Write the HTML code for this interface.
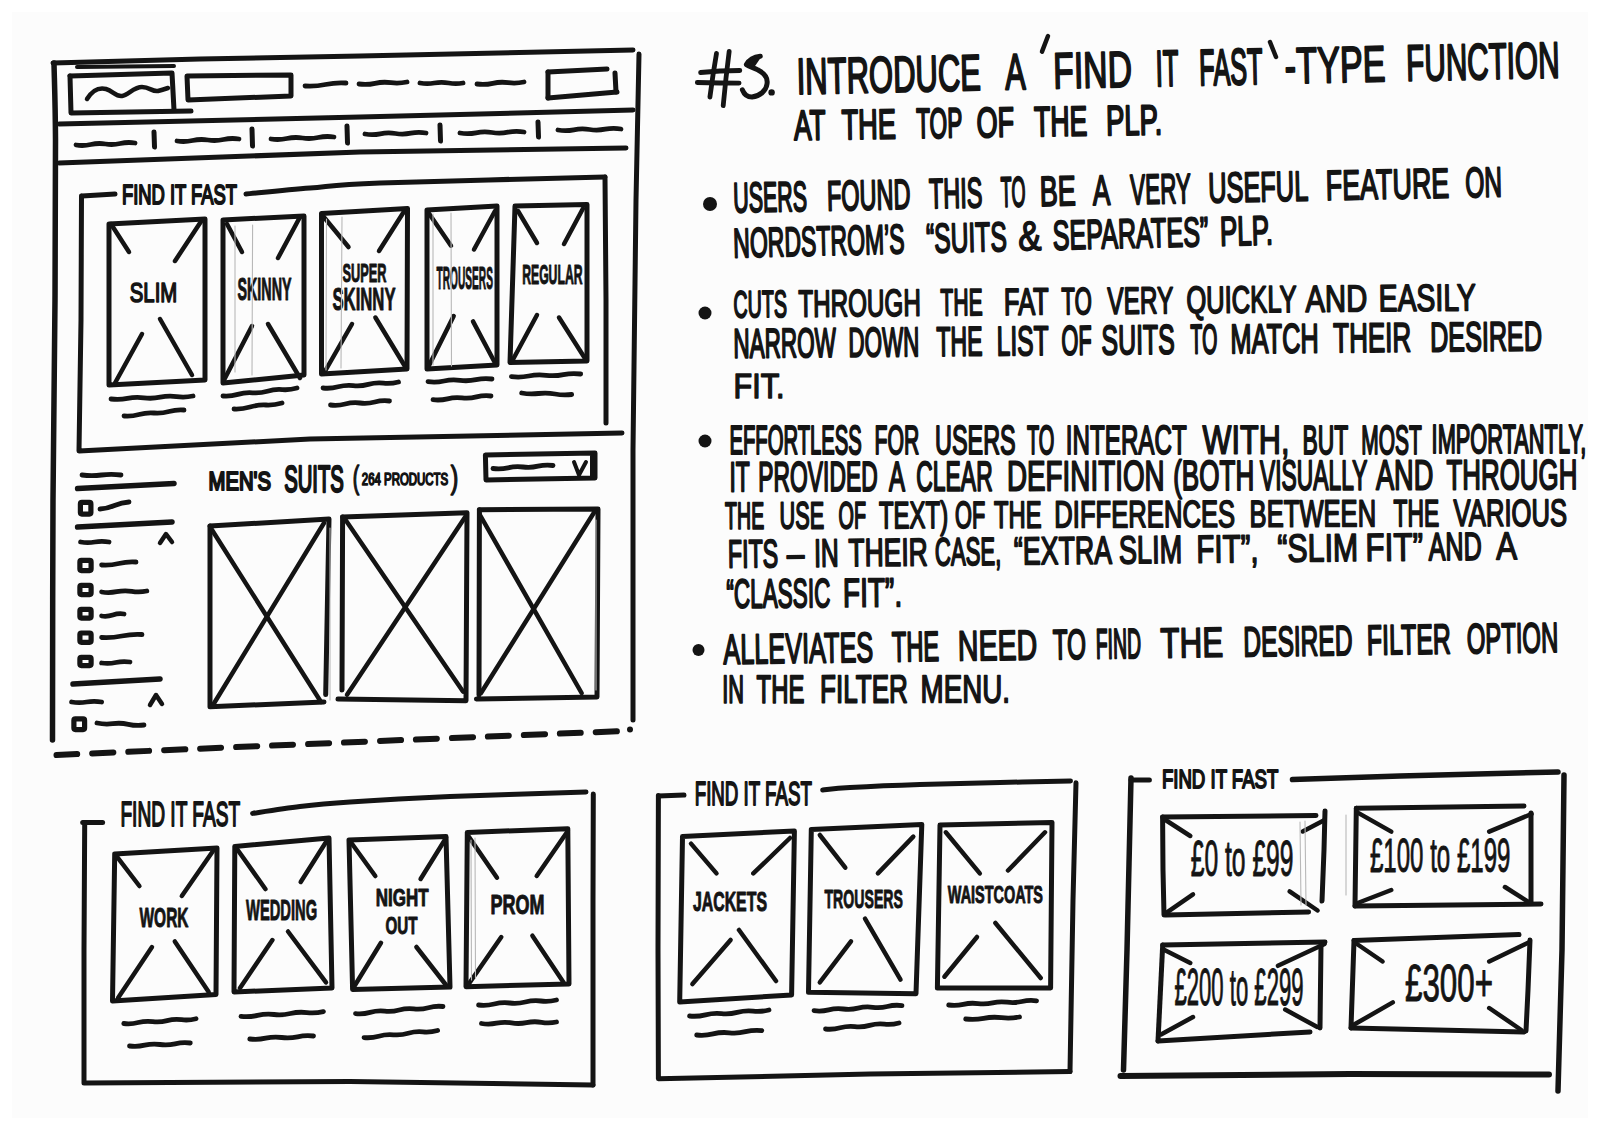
<!DOCTYPE html>
<html><head><meta charset="utf-8"><style>
html,body{margin:0;padding:0;background:#fff;}
body{width:1600px;height:1130px;overflow:hidden;}
svg{display:block;}
svg text{font-family:"Liberation Sans",sans-serif;fill:#141414;stroke:none;}
</style></head><body>
<svg width="1600" height="1130" viewBox="0 0 1600 1130">
<rect x="0" y="0" width="1600" height="1130" fill="#ffffff"/>
<rect x="12" y="12" width="1576" height="1106" fill="#fcfcfc"/>
<g fill="none" stroke="#141414" stroke-linecap="round" stroke-linejoin="round">
<path d="M53.0 63.0 L200.0 59.0 L360.0 56.0 L633.0 50.0" stroke-width="5"/>
<path d="M54.0 63.0 C54.2 75.8 55.3 100.5 55.5 140.0 C55.7 179.5 55.4 240.0 55.0 300.0 C54.6 360.0 53.4 426.7 53.0 500.0 C52.6 573.3 52.6 700.0 52.5 740.0" stroke-width="5.5"/>
<path d="M639.0 54.0 L636.0 200.0 L633.0 450.0 L633.0 720.0" stroke-width="5"/>
<path d="M56.5 755 Q300 744 625 731" stroke-width="6" stroke-dasharray="21 15"/>
<circle cx="630.0" cy="729.5" r="3.0" fill="#141414" stroke="none"/>
<path d="M77.0 67.0 L174.0 66.0" stroke-width="4"/>
<path d="M70.0 76.0 L172.0 73.0 L174.0 110.0" stroke-width="5"/>
<path d="M70.0 76.0 L71.0 113.0 L191.0 111.0" stroke-width="5"/>
<path d="M87 99 C92 91 98 87 106 89 C113 91 116 97 122 96 C128 95 134 87 142 87 C150 87 152 92 158 91 C162 90 165 89 168 88" stroke-width="4.5"/>
<path d="M187.0 76.0 L291.0 75.0 L291.0 96.0 L188.0 100.0 L187.0 76.0" stroke-width="5"/>
<path d="M305.0 86.0 Q315.2 86.7 325.5 84.5 Q335.8 82.3 346.0 83.0" stroke-width="4.8"/>
<path d="M359.0 84.0 Q367.0 85.1 375.0 83.3 Q383.0 81.6 391.0 82.7 Q399.0 83.7 407.0 82.0" stroke-width="4.8"/>
<path d="M420.0 83.0 Q427.2 84.4 434.3 83.0 Q441.5 81.6 448.7 83.0 Q455.8 84.4 463.0 83.0" stroke-width="4.8"/>
<path d="M477.0 84.0 Q484.8 85.1 492.7 83.3 Q500.5 81.6 508.3 82.7 Q516.2 83.7 524.0 82.0" stroke-width="4.8"/>
<path d="M548.0 72.0 L607.0 69.0" stroke-width="5"/>
<path d="M615.0 73.0 L616.0 92.0" stroke-width="5"/>
<path d="M548.0 98.0 L617.0 92.0" stroke-width="5"/>
<path d="M548.0 72.0 L548.0 98.0" stroke-width="5"/>
<path d="M59.0 124.0 L360.0 117.0 L633.0 110.0" stroke-width="5"/>
<path d="M59.0 163.0 L360.0 152.0 L626.0 148.0" stroke-width="5"/>
<path d="M154.0 132.0 L154.5 147.0" stroke-width="5"/>
<path d="M252.0 129.0 L252.5 146.0" stroke-width="5"/>
<path d="M347.0 126.0 L347.5 143.0" stroke-width="5"/>
<path d="M440.0 125.0 L440.5 141.0" stroke-width="5"/>
<path d="M538.0 122.0 L538.5 137.0" stroke-width="5"/>
<path d="M76.0 145.0 Q83.4 146.2 90.8 144.5 Q98.1 142.8 105.5 144.0 Q112.9 145.2 120.2 143.5 Q127.6 141.8 135.0 143.0" stroke-width="4.8"/>
<path d="M177.0 141.0 Q184.8 142.2 192.5 140.5 Q200.2 138.8 208.0 140.0 Q215.8 141.2 223.5 139.5 Q231.2 137.8 239.0 139.0" stroke-width="4.8"/>
<path d="M271.0 139.0 Q278.9 140.2 286.8 138.5 Q294.6 136.8 302.5 138.0 Q310.4 139.2 318.2 137.5 Q326.1 135.8 334.0 137.0" stroke-width="4.8"/>
<path d="M365.0 134.0 Q372.6 135.3 380.2 133.8 Q387.9 132.2 395.5 133.5 Q403.1 134.8 410.8 133.2 Q418.4 131.7 426.0 133.0" stroke-width="4.8"/>
<path d="M460.0 133.0 Q468.0 134.3 476.0 132.8 Q484.0 131.2 492.0 132.5 Q500.0 133.8 508.0 132.2 Q516.0 130.7 524.0 132.0" stroke-width="4.8"/>
<path d="M558.0 130.0 Q565.9 131.3 573.8 129.8 Q581.6 128.2 589.5 129.5 Q597.4 130.8 605.2 129.2 Q613.1 127.7 621.0 129.0" stroke-width="4.8"/>
<path d="M82.0 196.0 L115.0 194.0" stroke-width="5"/>
<text x="122.0" y="204.0" font-size="27.6" font-weight="normal" textLength="115.0" lengthAdjust="spacingAndGlyphs" style="stroke:#141414;stroke-width:2.0;stroke-linejoin:round">FIND IT FAST</text>
<path d="M246.0 194.0 C256.7 193.0 287.7 189.8 310.0 188.0 C332.3 186.2 330.8 184.8 380.0 183.0 C429.2 181.2 567.5 178.0 605.0 177.0" stroke-width="5"/>
<path d="M605.0 177.0 L606.0 300.0 L606.0 423.0" stroke-width="5"/>
<path d="M81.5 196.0 L81.0 320.0 L79.0 451.0 L310.0 439.0 L622.0 433.0" stroke-width="5"/>
<path d="M109.0 224.0 L205.0 219.0 L205.0 380.0 L109.0 385.0 L109.0 224.0" stroke-width="5"/>
<path d="M111.0 224.0 L129.0 252.0" stroke-width="4.5"/>
<path d="M202.0 220.0 L175.0 261.0" stroke-width="4.5"/>
<path d="M115.0 383.0 L142.0 334.0" stroke-width="4.5"/>
<path d="M192.0 375.0 L160.0 319.0" stroke-width="4.5"/>
<path d="M223.0 220.0 L304.0 216.0 L304.0 375.0 L223.0 383.0 L223.0 220.0" stroke-width="5"/>
<path d="M227.0 224.0 L242.0 252.0" stroke-width="4.5"/>
<path d="M300.0 217.0 L278.0 258.0" stroke-width="4.5"/>
<path d="M224.0 380.0 L252.0 326.0" stroke-width="4.5"/>
<path d="M300.0 378.0 L268.0 324.0" stroke-width="4.5"/>
<path d="M321.5 213.6 L407.5 208.5 L407.0 369.0 L321.5 374.0 L321.5 213.6" stroke-width="5"/>
<path d="M323.0 216.0 L348.5 247.0" stroke-width="4.5"/>
<path d="M403.7 212.0 L379.0 251.0" stroke-width="4.5"/>
<path d="M324.0 373.0 L352.0 324.0" stroke-width="4.5"/>
<path d="M406.0 368.0 L375.4 317.5" stroke-width="4.5"/>
<path d="M427.0 210.0 L497.0 206.0 L497.0 365.0 L427.0 369.0 L427.0 210.0" stroke-width="5"/>
<path d="M429.0 213.6 L451.0 245.7" stroke-width="4.5"/>
<path d="M495.0 211.0 L474.0 249.5" stroke-width="4.5"/>
<path d="M428.0 367.6 L453.7 316.0" stroke-width="4.5"/>
<path d="M494.8 362.5 L473.0 321.4" stroke-width="4.5"/>
<path d="M515.0 206.0 L587.0 204.6 L587.0 361.0 L510.0 362.5 L515.0 206.0" stroke-width="5"/>
<path d="M518.0 211.0 L537.0 243.0" stroke-width="4.5"/>
<path d="M583.0 208.5 L564.0 244.0" stroke-width="4.5"/>
<path d="M512.7 360.0 L537.0 315.0" stroke-width="4.5"/>
<path d="M586.0 360.0 L559.0 317.5" stroke-width="4.5"/>
<text x="129.8" y="302.2" font-size="27.6" font-weight="normal" textLength="47.4" lengthAdjust="spacingAndGlyphs" style="stroke:#141414;stroke-width:1.6;stroke-linejoin:round">SLIM</text>
<text x="237.5" y="299.5" font-size="30.5" font-weight="bold" textLength="54.0" lengthAdjust="spacingAndGlyphs" style="stroke:#141414;stroke-width:1.0;stroke-linejoin:round">SKINNY</text>
<text x="342.5" y="281.5" font-size="26.2" font-weight="bold" textLength="44.0" lengthAdjust="spacingAndGlyphs" style="stroke:#141414;stroke-width:1.0;stroke-linejoin:round">SUPER</text>
<text x="332.5" y="309.5" font-size="32.0" font-weight="bold" textLength="63.0" lengthAdjust="spacingAndGlyphs" style="stroke:#141414;stroke-width:1.0;stroke-linejoin:round">SKINNY</text>
<text x="436.5" y="288.5" font-size="30.5" font-weight="bold" textLength="56.5" lengthAdjust="spacingAndGlyphs" style="stroke:#141414;stroke-width:1.0;stroke-linejoin:round">TROUSERS</text>
<text x="522.2" y="283.5" font-size="27.6" font-weight="bold" textLength="60.3" lengthAdjust="spacingAndGlyphs" style="stroke:#141414;stroke-width:1.0;stroke-linejoin:round">REGULAR</text>
<path d="M111.0 399.0 Q119.2 400.1 127.4 398.4 Q135.6 396.7 143.8 397.8 Q152.0 398.9 160.2 397.2 Q168.4 395.5 176.6 396.6 Q184.8 397.7 193.0 396.0" stroke-width="4.8"/>
<path d="M124.0 416.0 Q131.5 416.6 139.0 414.5 Q146.5 412.4 154.0 413.0 Q161.5 413.6 169.0 411.5 Q176.5 409.4 184.0 410.0" stroke-width="4.8"/>
<path d="M223.0 396.0 Q230.4 396.6 237.8 394.4 Q245.2 392.2 252.6 392.8 Q260.0 393.4 267.4 391.2 Q274.8 389.0 282.2 389.6 Q289.6 390.2 297.0 388.0" stroke-width="4.8"/>
<path d="M234.0 409.0 Q242.0 409.4 250.0 407.0 Q258.0 404.6 266.0 405.0 Q274.0 405.4 282.0 403.0" stroke-width="4.8"/>
<path d="M323.0 388.0 Q330.6 388.8 338.1 386.8 Q345.6 384.8 353.2 385.6 Q360.8 386.4 368.3 384.4 Q375.9 382.4 383.4 383.2 Q390.9 384.0 398.5 382.0" stroke-width="4.8"/>
<path d="M330.5 405.0 Q337.9 405.9 345.2 404.0 Q352.6 402.1 360.0 403.0 Q367.4 403.9 374.8 402.0 Q382.1 400.1 389.5 401.0" stroke-width="4.8"/>
<path d="M428.0 381.7 Q436.0 382.8 444.0 381.0 Q452.0 379.3 460.0 380.4 Q468.0 381.4 476.0 379.7 Q484.0 377.9 492.0 379.0" stroke-width="4.8"/>
<path d="M433.0 399.7 Q440.2 400.6 447.5 398.8 Q454.8 396.9 462.0 397.9 Q469.2 398.8 476.5 396.9 Q483.8 395.1 491.0 396.0" stroke-width="4.8"/>
<path d="M511.4 376.6 Q520.1 377.7 528.7 376.0 Q537.4 374.2 546.0 375.3 Q554.7 376.4 563.4 374.6 Q572.0 372.9 580.7 374.0" stroke-width="4.8"/>
<path d="M521.7 393.0 Q530.0 394.6 538.4 393.5 Q546.7 392.4 555.0 394.0 Q563.4 395.6 571.7 394.5" stroke-width="4.8"/>
<path d="M82.0 475.0 Q91.8 476.4 101.5 475.0 Q111.2 473.6 121.0 475.0" stroke-width="4.8"/>
<path d="M77.6 488.6 L174.0 483.5" stroke-width="5.5"/>
<rect x="80.4" y="502.4" width="10.5" height="11.7" rx="1.5" stroke-width="5.2"/>
<path d="M100.0 509.0 Q107.2 508.6 114.5 505.5 Q121.8 502.4 129.0 502.0" stroke-width="4.8"/>
<path d="M77.6 527.0 L172.0 522.0" stroke-width="5.5"/>
<path d="M80.6 542.0 Q87.7 543.4 94.8 542.0 Q101.9 540.6 109.0 542.0" stroke-width="4.8"/>
<path d="M160.0 543.0 L166.0 534.0 L172.0 542.0" stroke-width="4.5"/>
<rect x="79.9" y="560.4" width="11.2" height="10.2" rx="1.5" stroke-width="5.2"/>
<path d="M101.6 565.0 Q110.2 565.6 118.8 563.5 Q127.4 561.4 136.0 562.0" stroke-width="4.8"/>
<rect x="79.9" y="585.4" width="11.2" height="9.2" rx="1.5" stroke-width="5.2"/>
<path d="M101.6 592.0 Q109.1 593.2 116.7 591.7 Q124.2 590.1 131.7 591.3 Q139.3 592.6 146.8 591.0" stroke-width="4.8"/>
<rect x="79.9" y="609.4" width="11.2" height="8.7" rx="1.5" stroke-width="5.2"/>
<path d="M101.6 616.0 Q107.2 616.9 112.8 615.0 Q118.4 613.1 124.0 614.0" stroke-width="4.8"/>
<rect x="79.9" y="633.0" width="11.2" height="9.3" rx="1.5" stroke-width="5.2"/>
<path d="M101.6 637.5 Q111.7 638.1 121.8 636.0 Q131.9 633.9 142.0 634.5" stroke-width="4.8"/>
<rect x="79.9" y="657.4" width="11.2" height="8.2" rx="1.5" stroke-width="5.2"/>
<path d="M101.6 663.0 Q108.7 664.1 115.8 662.5 Q122.9 660.9 130.0 662.0" stroke-width="4.8"/>
<path d="M73.0 684.0 L160.0 679.0" stroke-width="5.5"/>
<path d="M71.6 702.0 Q79.1 703.4 86.6 702.0 Q94.1 700.6 101.6 702.0" stroke-width="4.8"/>
<path d="M150.0 705.0 L156.0 695.0 L162.0 704.0" stroke-width="4.5"/>
<rect x="73.9" y="718.9" width="10.7" height="10.7" rx="1.5" stroke-width="5.2"/>
<path d="M97.0 723.0 Q104.8 724.7 112.7 723.7 Q120.5 722.6 128.3 724.3 Q136.2 726.1 144.0 725.0" stroke-width="4.8"/>
<text x="208.6" y="489.9" font-size="26.2" font-weight="normal" textLength="62.3" lengthAdjust="spacingAndGlyphs" style="stroke:#141414;stroke-width:2.2;stroke-linejoin:round">MEN'S</text>
<text x="284.2" y="491.8" font-size="36.3" font-weight="normal" textLength="59.6" lengthAdjust="spacingAndGlyphs" style="stroke:#141414;stroke-width:2.4;stroke-linejoin:round">SUITS</text>
<text x="352.8" y="488.2" font-size="30.5" font-weight="normal" textLength="6.5" lengthAdjust="spacingAndGlyphs" style="stroke:#141414;stroke-width:1.5;stroke-linejoin:round">(</text>
<text x="450.8" y="488.2" font-size="30.5" font-weight="normal" textLength="7.5" lengthAdjust="spacingAndGlyphs" style="stroke:#141414;stroke-width:1.5;stroke-linejoin:round">)</text>
<text x="361.8" y="485.2" font-size="16.0" font-weight="normal" textLength="86.4" lengthAdjust="spacingAndGlyphs" style="stroke:#141414;stroke-width:1.6;stroke-linejoin:round">264 PRODUCTS</text>
<path d="M485.4 455.0 L595.0 453.0 L595.0 478.0 L486.0 480.0 L485.4 455.0" stroke-width="5"/>
<path d="M493.0 468.5 Q500.5 469.5 508.0 467.8 Q515.5 466.0 523.0 467.0 Q530.5 468.0 538.0 466.2 Q545.5 464.5 553.0 465.5" stroke-width="4.8"/>
<path d="M574.0 462.0 L579.0 475.0 L586.0 462.0" stroke-width="4"/>
<path d="M592.0 456.0 L592.0 478.0" stroke-width="4"/>
<path d="M210.0 526.0 L329.0 519.0 L325.7 694.6" stroke-width="5"/>
<path d="M210.0 526.0 L210.0 706.7 L324.0 702.0" stroke-width="5"/>
<path d="M211.4 529.0 L321.0 702.0" stroke-width="4.5"/>
<path d="M324.0 523.0 L213.0 705.0" stroke-width="4.5"/>
<path d="M342.6 517.0 L467.0 512.7 L466.0 700.7 L338.0 699.0" stroke-width="5"/>
<path d="M342.6 517.0 L342.0 690.0" stroke-width="5"/>
<path d="M345.6 520.0 L463.0 691.6" stroke-width="4.5"/>
<path d="M466.0 515.7 L347.0 694.7" stroke-width="4.5"/>
<path d="M479.4 509.7 L598.0 509.0 L597.0 697.0 L476.4 699.0" stroke-width="5"/>
<path d="M479.4 509.7 L479.0 695.0" stroke-width="5"/>
<path d="M479.4 514.0 L581.6 693.0" stroke-width="4.5"/>
<path d="M595.0 511.0 L481.0 693.0" stroke-width="4.5"/>
<path d="M716.5 53.3 L713.0 75.0 L709.9 97.1" stroke-width="4.8"/>
<path d="M729.2 51.3 L726.0 78.0 L723.2 105.7" stroke-width="4.8"/>
<path d="M700.6 72.5 L720.0 71.0 L739.8 70.5" stroke-width="4.8"/>
<path d="M697.3 82.5 L720.0 83.0 L739.1 83.1" stroke-width="4.8"/>
<path d="M760.3 56.3 C754 57 749 60 746.4 64.6 C750 67 755 68 758 70 C764 73 768 78 767 84 C766 91 760 96 752 97 C747 97 744 94 742.4 89.8" stroke-width="5"/>
<path d="M760.5 55.5 L748 63.5 L754 65 Z" fill="#141414" stroke-width="3"/>
<circle cx="771.6" cy="92.4" r="3.2" fill="#141414" stroke="none"/>
<text x="797.0" y="94.1" font-size="50.9" font-weight="normal" textLength="184.3" lengthAdjust="spacingAndGlyphs" transform="rotate(-1.25 796.4 94.7)" style="stroke:#141414;stroke-width:2.10;stroke-linejoin:round">INTRODUCE</text>
<text x="1005.5" y="89.5" font-size="50.9" font-weight="normal" textLength="20.4" lengthAdjust="spacingAndGlyphs" transform="rotate(-1.25 1004.9 90.1)" style="stroke:#141414;stroke-width:2.12;stroke-linejoin:round">A</text>
<text x="1053.6" y="88.5" font-size="50.9" font-weight="normal" textLength="78.8" lengthAdjust="spacingAndGlyphs" transform="rotate(-1.25 1053.0 89.1)" style="stroke:#141414;stroke-width:1.98;stroke-linejoin:round">FIND</text>
<text x="1156.1" y="86.2" font-size="50.9" font-weight="normal" textLength="22.8" lengthAdjust="spacingAndGlyphs" transform="rotate(-1.25 1155.5 86.8)" style="stroke:#141414;stroke-width:2.35;stroke-linejoin:round">IT</text>
<text x="1199.6" y="85.3" font-size="50.9" font-weight="normal" textLength="63.3" lengthAdjust="spacingAndGlyphs" transform="rotate(-1.25 1199.0 85.9)" style="stroke:#141414;stroke-width:2.39;stroke-linejoin:round">FAST</text>
<text x="1285.1" y="83.4" font-size="50.9" font-weight="normal" textLength="100.8" lengthAdjust="spacingAndGlyphs" transform="rotate(-1.25 1284.5 84.0)" style="stroke:#141414;stroke-width:1.96;stroke-linejoin:round">-TYPE</text>
<text x="1406.6" y="80.8" font-size="50.9" font-weight="normal" textLength="153.3" lengthAdjust="spacingAndGlyphs" transform="rotate(-1.25 1406.0 81.4)" style="stroke:#141414;stroke-width:2.16;stroke-linejoin:round">FUNCTION</text>
<path d="M1048.0 36.0 L1042.0 51.6" stroke-width="4.5"/>
<path d="M1270.0 42.0 L1276.0 57.0" stroke-width="4.5"/>
<text x="794.3" y="140.0" font-size="42.2" font-weight="normal" textLength="31.6" lengthAdjust="spacingAndGlyphs" transform="rotate(-0.88 793.6 140.7)" style="stroke:#141414;stroke-width:2.19;stroke-linejoin:round">AT</text>
<text x="841.7" y="139.3" font-size="42.2" font-weight="normal" textLength="54.6" lengthAdjust="spacingAndGlyphs" transform="rotate(-0.88 841.0 140.0)" style="stroke:#141414;stroke-width:2.08;stroke-linejoin:round">THE</text>
<text x="916.5" y="138.1" font-size="42.2" font-weight="normal" textLength="46.0" lengthAdjust="spacingAndGlyphs" transform="rotate(-0.88 915.8 138.8)" style="stroke:#141414;stroke-width:2.30;stroke-linejoin:round">TOP</text>
<text x="976.7" y="137.2" font-size="42.2" font-weight="normal" textLength="37.6" lengthAdjust="spacingAndGlyphs" transform="rotate(-0.88 976.0 137.9)" style="stroke:#141414;stroke-width:2.09;stroke-linejoin:round">OF</text>
<text x="1034.3" y="136.3" font-size="42.2" font-weight="normal" textLength="53.3" lengthAdjust="spacingAndGlyphs" transform="rotate(-0.88 1033.6 137.0)" style="stroke:#141414;stroke-width:2.11;stroke-linejoin:round">THE</text>
<text x="1106.2" y="135.2" font-size="42.2" font-weight="normal" textLength="56.1" lengthAdjust="spacingAndGlyphs" transform="rotate(-0.88 1105.5 135.9)" style="stroke:#141414;stroke-width:2.14;stroke-linejoin:round">PLP.</text>
<circle cx="710.0" cy="204.0" r="7.0" fill="#141414" stroke="none"/>
<text x="733.6" y="212.4" font-size="42.2" font-weight="normal" textLength="73.8" lengthAdjust="spacingAndGlyphs" transform="rotate(-1.19 733.0 213.0)" style="stroke:#141414;stroke-width:2.14;stroke-linejoin:round">USERS</text>
<text x="827.2" y="210.5" font-size="42.2" font-weight="normal" textLength="83.6" lengthAdjust="spacingAndGlyphs" transform="rotate(-1.19 826.6 211.1)" style="stroke:#141414;stroke-width:2.05;stroke-linejoin:round">FOUND</text>
<text x="929.2" y="208.3" font-size="42.2" font-weight="normal" textLength="53.5" lengthAdjust="spacingAndGlyphs" transform="rotate(-1.19 928.6 208.9)" style="stroke:#141414;stroke-width:2.05;stroke-linejoin:round">THIS</text>
<text x="1001.1" y="206.8" font-size="42.2" font-weight="normal" textLength="24.7" lengthAdjust="spacingAndGlyphs" transform="rotate(-1.19 1000.5 207.4)" style="stroke:#141414;stroke-width:2.31;stroke-linejoin:round">TO</text>
<text x="1039.9" y="206.0" font-size="42.2" font-weight="normal" textLength="36.2" lengthAdjust="spacingAndGlyphs" transform="rotate(-1.19 1039.3 206.6)" style="stroke:#141414;stroke-width:1.88;stroke-linejoin:round">BE</text>
<text x="1093.1" y="204.9" font-size="42.2" font-weight="normal" textLength="17.5" lengthAdjust="spacingAndGlyphs" transform="rotate(-1.19 1092.5 205.5)" style="stroke:#141414;stroke-width:1.92;stroke-linejoin:round">A</text>
<text x="1130.6" y="204.2" font-size="42.2" font-weight="normal" textLength="60.5" lengthAdjust="spacingAndGlyphs" transform="rotate(-1.19 1130.0 204.8)" style="stroke:#141414;stroke-width:2.11;stroke-linejoin:round">VERY</text>
<text x="1208.4" y="202.5" font-size="42.2" font-weight="normal" textLength="100.2" lengthAdjust="spacingAndGlyphs" transform="rotate(-1.19 1207.8 203.1)" style="stroke:#141414;stroke-width:1.96;stroke-linejoin:round">USEFUL</text>
<text x="1326.0" y="200.1" font-size="42.2" font-weight="normal" textLength="123.6" lengthAdjust="spacingAndGlyphs" transform="rotate(-1.19 1325.4 200.7)" style="stroke:#141414;stroke-width:1.91;stroke-linejoin:round">FEATURE</text>
<text x="1465.5" y="197.2" font-size="42.2" font-weight="normal" textLength="36.9" lengthAdjust="spacingAndGlyphs" transform="rotate(-1.19 1464.9 197.8)" style="stroke:#141414;stroke-width:2.00;stroke-linejoin:round">ON</text>
<text x="733.6" y="257.4" font-size="41.4" font-weight="normal" textLength="171.4" lengthAdjust="spacingAndGlyphs" transform="rotate(-1.38 733.0 258.0)" style="stroke:#141414;stroke-width:2.04;stroke-linejoin:round">NORDSTROM’S</text>
<text x="926.4" y="252.8" font-size="41.4" font-weight="normal" textLength="80.7" lengthAdjust="spacingAndGlyphs" transform="rotate(-1.38 925.8 253.4)" style="stroke:#141414;stroke-width:1.96;stroke-linejoin:round">“SUITS</text>
<text x="1018.4" y="250.6" font-size="41.4" font-weight="normal" textLength="23.2" lengthAdjust="spacingAndGlyphs" transform="rotate(-1.38 1017.8 251.2)" style="stroke:#141414;stroke-width:1.50;stroke-linejoin:round">&amp;</text>
<text x="1052.9" y="249.7" font-size="41.4" font-weight="normal" textLength="155.8" lengthAdjust="spacingAndGlyphs" transform="rotate(-1.38 1052.3 250.3)" style="stroke:#141414;stroke-width:1.97;stroke-linejoin:round">SEPARATES”</text>
<text x="1220.2" y="245.7" font-size="41.4" font-weight="normal" textLength="53.2" lengthAdjust="spacingAndGlyphs" transform="rotate(-1.38 1219.6 246.3)" style="stroke:#141414;stroke-width:1.97;stroke-linejoin:round">PLP.</text>
<circle cx="705.0" cy="313.0" r="6.5" fill="#141414" stroke="none"/>
<text x="733.6" y="317.4" font-size="37.8" font-weight="normal" textLength="53.6" lengthAdjust="spacingAndGlyphs" transform="rotate(-0.54 733.0 318.0)" style="stroke:#141414;stroke-width:2.02;stroke-linejoin:round">CUTS</text>
<text x="798.4" y="316.8" font-size="37.8" font-weight="normal" textLength="122.5" lengthAdjust="spacingAndGlyphs" transform="rotate(-0.54 797.8 317.4)" style="stroke:#141414;stroke-width:1.82;stroke-linejoin:round">THROUGH</text>
<text x="940.6" y="315.5" font-size="37.8" font-weight="normal" textLength="42.1" lengthAdjust="spacingAndGlyphs" transform="rotate(-0.54 940.0 316.1)" style="stroke:#141414;stroke-width:1.96;stroke-linejoin:round">THE</text>
<text x="1004.0" y="314.9" font-size="37.8" font-weight="normal" textLength="44.8" lengthAdjust="spacingAndGlyphs" transform="rotate(-0.54 1003.4 315.5)" style="stroke:#141414;stroke-width:1.84;stroke-linejoin:round">FAT</text>
<text x="1061.6" y="314.3" font-size="37.8" font-weight="normal" textLength="30.3" lengthAdjust="spacingAndGlyphs" transform="rotate(-0.54 1061.0 314.9)" style="stroke:#141414;stroke-width:1.93;stroke-linejoin:round">TO</text>
<text x="1107.6" y="313.9" font-size="37.8" font-weight="normal" textLength="65.8" lengthAdjust="spacingAndGlyphs" transform="rotate(-0.54 1107.0 314.5)" style="stroke:#141414;stroke-width:1.82;stroke-linejoin:round">VERY</text>
<text x="1186.4" y="313.1" font-size="37.8" font-weight="normal" textLength="110.4" lengthAdjust="spacingAndGlyphs" transform="rotate(-0.54 1185.8 313.7)" style="stroke:#141414;stroke-width:1.78;stroke-linejoin:round">QUICKLY</text>
<text x="1305.4" y="312.0" font-size="37.8" font-weight="normal" textLength="62.0" lengthAdjust="spacingAndGlyphs" transform="rotate(-0.54 1304.8 312.6)" style="stroke:#141414;stroke-width:1.58;stroke-linejoin:round">AND</text>
<text x="1378.8" y="311.3" font-size="37.8" font-weight="normal" textLength="97.2" lengthAdjust="spacingAndGlyphs" transform="rotate(-0.54 1378.2 311.9)" style="stroke:#141414;stroke-width:1.66;stroke-linejoin:round">EASILY</text>
<text x="733.6" y="357.8" font-size="41.4" font-weight="normal" textLength="102.4" lengthAdjust="spacingAndGlyphs" transform="rotate(-0.52 733.0 358.4)" style="stroke:#141414;stroke-width:2.06;stroke-linejoin:round">NARROW</text>
<text x="848.6" y="356.7" font-size="41.4" font-weight="normal" textLength="70.8" lengthAdjust="spacingAndGlyphs" transform="rotate(-0.52 848.0 357.3)" style="stroke:#141414;stroke-width:2.07;stroke-linejoin:round">DOWN</text>
<text x="936.4" y="355.9" font-size="41.4" font-weight="normal" textLength="46.3" lengthAdjust="spacingAndGlyphs" transform="rotate(-0.52 935.8 356.5)" style="stroke:#141414;stroke-width:2.03;stroke-linejoin:round">THE</text>
<text x="996.8" y="355.4" font-size="41.4" font-weight="normal" textLength="52.0" lengthAdjust="spacingAndGlyphs" transform="rotate(-0.52 996.2 356.0)" style="stroke:#141414;stroke-width:1.96;stroke-linejoin:round">LIST</text>
<text x="1061.6" y="354.8" font-size="41.4" font-weight="normal" textLength="30.3" lengthAdjust="spacingAndGlyphs" transform="rotate(-0.52 1061.0 355.4)" style="stroke:#141414;stroke-width:2.09;stroke-linejoin:round">OF</text>
<text x="1101.6" y="354.4" font-size="41.4" font-weight="normal" textLength="73.3" lengthAdjust="spacingAndGlyphs" transform="rotate(-0.52 1101.0 355.0)" style="stroke:#141414;stroke-width:1.95;stroke-linejoin:round">SUITS</text>
<text x="1190.6" y="353.6" font-size="41.4" font-weight="normal" textLength="26.8" lengthAdjust="spacingAndGlyphs" transform="rotate(-0.52 1190.0 354.2)" style="stroke:#141414;stroke-width:2.21;stroke-linejoin:round">TO</text>
<text x="1230.6" y="353.3" font-size="41.4" font-weight="normal" textLength="88.3" lengthAdjust="spacingAndGlyphs" transform="rotate(-0.52 1230.0 353.9)" style="stroke:#141414;stroke-width:1.95;stroke-linejoin:round">MATCH</text>
<text x="1333.3" y="352.3" font-size="41.4" font-weight="normal" textLength="78.1" lengthAdjust="spacingAndGlyphs" transform="rotate(-0.52 1332.7 352.9)" style="stroke:#141414;stroke-width:1.90;stroke-linejoin:round">THEIR</text>
<text x="1430.2" y="351.4" font-size="41.4" font-weight="normal" textLength="111.9" lengthAdjust="spacingAndGlyphs" transform="rotate(-0.52 1429.6 352.0)" style="stroke:#141414;stroke-width:1.94;stroke-linejoin:round">DESIRED</text>
<text x="733.6" y="398.0" font-size="34.9" font-weight="normal" textLength="50.8" lengthAdjust="spacingAndGlyphs" transform="rotate(0.00 733.0 398.6)" style="stroke:#141414;stroke-width:1.49;stroke-linejoin:round">FIT.</text>
<circle cx="705.0" cy="441.0" r="6.5" fill="#141414" stroke="none"/>
<text x="729.4" y="454.0" font-size="40.7" font-weight="normal" textLength="132.5" lengthAdjust="spacingAndGlyphs" transform="rotate(-0.04 728.8 454.6)" style="stroke:#141414;stroke-width:2.13;stroke-linejoin:round">EFFORTLESS</text>
<text x="874.6" y="453.9" font-size="40.7" font-weight="normal" textLength="44.8" lengthAdjust="spacingAndGlyphs" transform="rotate(-0.04 874.0 454.5)" style="stroke:#141414;stroke-width:2.09;stroke-linejoin:round">FOR</text>
<text x="935.0" y="453.9" font-size="40.7" font-weight="normal" textLength="80.7" lengthAdjust="spacingAndGlyphs" transform="rotate(-0.04 934.4 454.5)" style="stroke:#141414;stroke-width:1.99;stroke-linejoin:round">USERS</text>
<text x="1027.0" y="453.8" font-size="40.7" font-weight="normal" textLength="27.4" lengthAdjust="spacingAndGlyphs" transform="rotate(-0.04 1026.4 454.4)" style="stroke:#141414;stroke-width:2.15;stroke-linejoin:round">TO</text>
<text x="1065.8" y="453.8" font-size="40.7" font-weight="normal" textLength="120.9" lengthAdjust="spacingAndGlyphs" transform="rotate(-0.04 1065.2 454.4)" style="stroke:#141414;stroke-width:1.95;stroke-linejoin:round">INTERACT</text>
<text x="1202.6" y="453.7" font-size="40.7" font-weight="normal" textLength="86.8" lengthAdjust="spacingAndGlyphs" transform="rotate(-0.04 1202.0 454.3)" style="stroke:#141414;stroke-width:1.66;stroke-linejoin:round">WITH,</text>
<text x="1302.5" y="453.6" font-size="40.7" font-weight="normal" textLength="45.8" lengthAdjust="spacingAndGlyphs" transform="rotate(-0.04 1301.9 454.2)" style="stroke:#141414;stroke-width:2.01;stroke-linejoin:round">BUT</text>
<text x="1361.2" y="453.6" font-size="40.7" font-weight="normal" textLength="60.5" lengthAdjust="spacingAndGlyphs" transform="rotate(-0.04 1360.6 454.2)" style="stroke:#141414;stroke-width:2.10;stroke-linejoin:round">MOST</text>
<text x="1431.6" y="453.5" font-size="40.7" font-weight="normal" textLength="154.6" lengthAdjust="spacingAndGlyphs" transform="rotate(-0.04 1431.0 454.1)" style="stroke:#141414;stroke-width:2.10;stroke-linejoin:round">IMPORTANTLY,</text>
<text x="729.4" y="491.4" font-size="42.2" font-weight="normal" textLength="20.4" lengthAdjust="spacingAndGlyphs" transform="rotate(-0.16 728.8 492.0)" style="stroke:#141414;stroke-width:2.07;stroke-linejoin:round">IT</text>
<text x="758.2" y="491.3" font-size="42.2" font-weight="normal" textLength="119.5" lengthAdjust="spacingAndGlyphs" transform="rotate(-0.16 757.6 491.9)" style="stroke:#141414;stroke-width:2.08;stroke-linejoin:round">PROVIDED</text>
<text x="889.0" y="490.9" font-size="42.2" font-weight="normal" textLength="16.0" lengthAdjust="spacingAndGlyphs" transform="rotate(-0.16 888.4 491.5)" style="stroke:#141414;stroke-width:2.03;stroke-linejoin:round">A</text>
<text x="916.3" y="490.9" font-size="42.2" font-weight="normal" textLength="76.4" lengthAdjust="spacingAndGlyphs" transform="rotate(-0.16 915.7 491.5)" style="stroke:#141414;stroke-width:2.08;stroke-linejoin:round">CLEAR</text>
<text x="1006.9" y="490.6" font-size="42.2" font-weight="normal" textLength="157.8" lengthAdjust="spacingAndGlyphs" transform="rotate(-0.16 1006.3 491.2)" style="stroke:#141414;stroke-width:1.85;stroke-linejoin:round">DEFINITION</text>
<text x="1173.2" y="490.1" font-size="42.2" font-weight="normal" textLength="81.1" lengthAdjust="spacingAndGlyphs" transform="rotate(-0.16 1172.6 490.7)" style="stroke:#141414;stroke-width:1.93;stroke-linejoin:round">(BOTH</text>
<text x="1259.9" y="489.9" font-size="42.2" font-weight="normal" textLength="107.5" lengthAdjust="spacingAndGlyphs" transform="rotate(-0.16 1259.3 490.5)" style="stroke:#141414;stroke-width:2.09;stroke-linejoin:round">VISUALLY</text>
<text x="1375.9" y="489.6" font-size="42.2" font-weight="normal" textLength="57.5" lengthAdjust="spacingAndGlyphs" transform="rotate(-0.16 1375.3 490.2)" style="stroke:#141414;stroke-width:1.88;stroke-linejoin:round">AND</text>
<text x="1446.4" y="489.4" font-size="42.2" font-weight="normal" textLength="131.0" lengthAdjust="spacingAndGlyphs" transform="rotate(-0.16 1445.8 490.0)" style="stroke:#141414;stroke-width:1.94;stroke-linejoin:round">THROUGH</text>
<text x="725.1" y="528.8" font-size="37.8" font-weight="normal" textLength="39.1" lengthAdjust="spacingAndGlyphs" transform="rotate(-0.21 724.5 529.4)" style="stroke:#141414;stroke-width:2.03;stroke-linejoin:round">THE</text>
<text x="779.6" y="528.6" font-size="37.8" font-weight="normal" textLength="44.8" lengthAdjust="spacingAndGlyphs" transform="rotate(-0.21 779.0 529.2)" style="stroke:#141414;stroke-width:1.93;stroke-linejoin:round">USE</text>
<text x="838.6" y="528.4" font-size="37.8" font-weight="normal" textLength="27.6" lengthAdjust="spacingAndGlyphs" transform="rotate(-0.21 838.0 529.0)" style="stroke:#141414;stroke-width:2.02;stroke-linejoin:round">OF</text>
<text x="878.9" y="528.2" font-size="37.8" font-weight="normal" textLength="69.3" lengthAdjust="spacingAndGlyphs" transform="rotate(-0.21 878.3 528.8)" style="stroke:#141414;stroke-width:1.83;stroke-linejoin:round">TEXT)</text>
<text x="955.1" y="528.0" font-size="37.8" font-weight="normal" textLength="30.3" lengthAdjust="spacingAndGlyphs" transform="rotate(-0.21 954.5 528.6)" style="stroke:#141414;stroke-width:1.93;stroke-linejoin:round">OF</text>
<text x="993.9" y="527.8" font-size="37.8" font-weight="normal" textLength="47.7" lengthAdjust="spacingAndGlyphs" transform="rotate(-0.21 993.3 528.4)" style="stroke:#141414;stroke-width:1.83;stroke-linejoin:round">THE</text>
<text x="1054.3" y="527.6" font-size="37.8" font-weight="normal" textLength="180.9" lengthAdjust="spacingAndGlyphs" transform="rotate(-0.21 1053.7 528.2)" style="stroke:#141414;stroke-width:1.75;stroke-linejoin:round">DIFFERENCES</text>
<text x="1249.6" y="526.9" font-size="37.8" font-weight="normal" textLength="126.6" lengthAdjust="spacingAndGlyphs" transform="rotate(-0.21 1249.0 527.5)" style="stroke:#141414;stroke-width:1.75;stroke-linejoin:round">BETWEEN</text>
<text x="1393.6" y="526.3" font-size="37.8" font-weight="normal" textLength="45.8" lengthAdjust="spacingAndGlyphs" transform="rotate(-0.21 1393.0 526.9)" style="stroke:#141414;stroke-width:1.88;stroke-linejoin:round">THE</text>
<text x="1453.6" y="526.1" font-size="37.8" font-weight="normal" textLength="113.5" lengthAdjust="spacingAndGlyphs" transform="rotate(-0.21 1453.0 526.7)" style="stroke:#141414;stroke-width:1.77;stroke-linejoin:round">VARIOUS</text>
<text x="728.0" y="567.6" font-size="39.2" font-weight="normal" textLength="50.4" lengthAdjust="spacingAndGlyphs" transform="rotate(-0.59 727.4 568.2)" style="stroke:#141414;stroke-width:1.93;stroke-linejoin:round">FITS</text>
<text x="786.9" y="567.0" font-size="39.2" font-weight="normal" textLength="17.5" lengthAdjust="spacingAndGlyphs" transform="rotate(-0.59 786.3 567.6)" style="stroke:#141414;stroke-width:1.55;stroke-linejoin:round">–</text>
<text x="814.2" y="566.7" font-size="39.2" font-weight="normal" textLength="24.7" lengthAdjust="spacingAndGlyphs" transform="rotate(-0.59 813.6 567.3)" style="stroke:#141414;stroke-width:1.86;stroke-linejoin:round">IN</text>
<text x="848.6" y="566.3" font-size="39.2" font-weight="normal" textLength="79.4" lengthAdjust="spacingAndGlyphs" transform="rotate(-0.59 848.0 566.9)" style="stroke:#141414;stroke-width:1.78;stroke-linejoin:round">THEIR</text>
<text x="935.0" y="565.4" font-size="39.2" font-weight="normal" textLength="66.4" lengthAdjust="spacingAndGlyphs" transform="rotate(-0.59 934.4 566.0)" style="stroke:#141414;stroke-width:1.98;stroke-linejoin:round">CASE,</text>
<text x="1014.1" y="564.6" font-size="39.2" font-weight="normal" textLength="98.0" lengthAdjust="spacingAndGlyphs" transform="rotate(-0.59 1013.5 565.2)" style="stroke:#141414;stroke-width:1.77;stroke-linejoin:round">“EXTRA</text>
<text x="1119.0" y="563.5" font-size="39.2" font-weight="normal" textLength="63.3" lengthAdjust="spacingAndGlyphs" transform="rotate(-0.59 1118.4 564.1)" style="stroke:#141414;stroke-width:1.75;stroke-linejoin:round">SLIM</text>
<text x="1196.6" y="562.7" font-size="39.2" font-weight="normal" textLength="62.1" lengthAdjust="spacingAndGlyphs" transform="rotate(-0.59 1196.0 563.3)" style="stroke:#141414;stroke-width:1.65;stroke-linejoin:round">FIT”,</text>
<text x="1277.5" y="561.9" font-size="39.2" font-weight="normal" textLength="80.9" lengthAdjust="spacingAndGlyphs" transform="rotate(-0.59 1276.9 562.5)" style="stroke:#141414;stroke-width:1.61;stroke-linejoin:round">“SLIM</text>
<text x="1365.6" y="561.0" font-size="39.2" font-weight="normal" textLength="57.6" lengthAdjust="spacingAndGlyphs" transform="rotate(-0.59 1365.0 561.6)" style="stroke:#141414;stroke-width:1.56;stroke-linejoin:round">FIT”</text>
<text x="1428.8" y="560.3" font-size="39.2" font-weight="normal" textLength="53.1" lengthAdjust="spacingAndGlyphs" transform="rotate(-0.59 1428.2 560.9)" style="stroke:#141414;stroke-width:1.84;stroke-linejoin:round">AND</text>
<text x="1496.3" y="559.6" font-size="39.2" font-weight="normal" textLength="20.9" lengthAdjust="spacingAndGlyphs" transform="rotate(-0.59 1495.7 560.2)" style="stroke:#141414;stroke-width:1.56;stroke-linejoin:round">A</text>
<text x="726.6" y="607.9" font-size="40.7" font-weight="normal" textLength="103.8" lengthAdjust="spacingAndGlyphs" transform="rotate(-0.49 726.0 608.5)" style="stroke:#141414;stroke-width:2.03;stroke-linejoin:round">“CLASSIC</text>
<text x="843.0" y="606.9" font-size="40.7" font-weight="normal" textLength="59.2" lengthAdjust="spacingAndGlyphs" transform="rotate(-0.49 842.4 607.5)" style="stroke:#141414;stroke-width:1.78;stroke-linejoin:round">FIT”.</text>
<circle cx="698.5" cy="650.0" r="6.0" fill="#141414" stroke="none"/>
<text x="723.6" y="663.9" font-size="42.2" font-weight="normal" textLength="149.8" lengthAdjust="spacingAndGlyphs" transform="rotate(-0.82 723.0 664.5)" style="stroke:#141414;stroke-width:1.98;stroke-linejoin:round">ALLEVIATES</text>
<text x="891.9" y="661.5" font-size="42.2" font-weight="normal" textLength="47.5" lengthAdjust="spacingAndGlyphs" transform="rotate(-0.82 891.3 662.1)" style="stroke:#141414;stroke-width:2.04;stroke-linejoin:round">THE</text>
<text x="958.0" y="660.6" font-size="42.2" font-weight="normal" textLength="79.4" lengthAdjust="spacingAndGlyphs" transform="rotate(-0.82 957.4 661.2)" style="stroke:#141414;stroke-width:1.82;stroke-linejoin:round">NEED</text>
<text x="1052.9" y="659.2" font-size="42.2" font-weight="normal" textLength="33.3" lengthAdjust="spacingAndGlyphs" transform="rotate(-0.82 1052.3 659.8)" style="stroke:#141414;stroke-width:2.03;stroke-linejoin:round">TO</text>
<text x="1096.0" y="658.6" font-size="42.2" font-weight="normal" textLength="45.2" lengthAdjust="spacingAndGlyphs" transform="rotate(-0.82 1095.4 659.2)" style="stroke:#141414;stroke-width:2.24;stroke-linejoin:round">FIND</text>
<text x="1160.6" y="657.7" font-size="42.2" font-weight="normal" textLength="62.8" lengthAdjust="spacingAndGlyphs" transform="rotate(-0.82 1160.0 658.3)" style="stroke:#141414;stroke-width:1.69;stroke-linejoin:round">THE</text>
<text x="1243.6" y="656.5" font-size="42.2" font-weight="normal" textLength="109.1" lengthAdjust="spacingAndGlyphs" transform="rotate(-0.82 1243.0 657.1)" style="stroke:#141414;stroke-width:2.00;stroke-linejoin:round">DESIRED</text>
<text x="1367.1" y="654.7" font-size="42.2" font-weight="normal" textLength="84.0" lengthAdjust="spacingAndGlyphs" transform="rotate(-0.82 1366.5 655.3)" style="stroke:#141414;stroke-width:2.01;stroke-linejoin:round">FILTER</text>
<text x="1467.0" y="653.3" font-size="42.2" font-weight="normal" textLength="91.4" lengthAdjust="spacingAndGlyphs" transform="rotate(-0.82 1466.4 653.9)" style="stroke:#141414;stroke-width:2.03;stroke-linejoin:round">OPTION</text>
<text x="722.2" y="702.7" font-size="39.2" font-weight="normal" textLength="21.8" lengthAdjust="spacingAndGlyphs" transform="rotate(-0.06 721.6 703.3)" style="stroke:#141414;stroke-width:1.99;stroke-linejoin:round">IN</text>
<text x="756.6" y="702.7" font-size="39.2" font-weight="normal" textLength="47.8" lengthAdjust="spacingAndGlyphs" transform="rotate(-0.06 756.0 703.3)" style="stroke:#141414;stroke-width:1.90;stroke-linejoin:round">THE</text>
<text x="820.0" y="702.6" font-size="39.2" font-weight="normal" textLength="87.9" lengthAdjust="spacingAndGlyphs" transform="rotate(-0.06 819.4 703.2)" style="stroke:#141414;stroke-width:1.82;stroke-linejoin:round">FILTER</text>
<text x="920.6" y="702.5" font-size="39.2" font-weight="normal" textLength="89.4" lengthAdjust="spacingAndGlyphs" transform="rotate(-0.06 920.0 703.1)" style="stroke:#141414;stroke-width:1.72;stroke-linejoin:round">MENU.</text>
<path d="M82.7 822.5 L102.6 822.5" stroke-width="5"/>
<text x="120.4" y="826.1" font-size="34.9" font-weight="normal" textLength="119.7" lengthAdjust="spacingAndGlyphs" style="stroke:#141414;stroke-width:1.8;stroke-linejoin:round">FIND IT FAST</text>
<path d="M252.6 813.4 C260.5 812.2 283.8 808.4 300.0 806.5 C316.2 804.6 325.0 803.7 350.0 802.0 C375.0 800.3 410.7 798.2 450.0 796.5 C489.3 794.8 563.3 792.8 586.0 792.0" stroke-width="5"/>
<path d="M593.3 794.0 L593.0 900.0 L593.0 1085.0" stroke-width="5"/>
<path d="M84.7 822.5 L84.0 950.0 L84.0 1083.0 L350.0 1081.5 L593.0 1085.0" stroke-width="5"/>
<path d="M114.7 854.0 L217.0 848.0 L216.0 994.6 L112.5 1001.0 L114.7 854.0" stroke-width="5"/>
<path d="M116.7 856.4 L139.4 886.0" stroke-width="4.5"/>
<path d="M213.0 851.0 L181.8 896.0" stroke-width="4.5"/>
<path d="M118.0 998.0 L152.0 947.0" stroke-width="4.5"/>
<path d="M208.7 992.0 L174.8 941.4" stroke-width="4.5"/>
<text x="139.5" y="926.5" font-size="27.6" font-weight="bold" textLength="49.0" lengthAdjust="spacingAndGlyphs" style="stroke:#141414;stroke-width:1.0;stroke-linejoin:round">WORK</text>
<path d="M123.8 1023.5 Q131.0 1024.4 138.2 1022.5 Q145.5 1020.7 152.7 1021.6 Q159.9 1022.5 167.1 1020.6 Q174.3 1018.7 181.6 1019.7 Q188.8 1020.6 196.0 1018.7" stroke-width="4.8"/>
<path d="M129.5 1046.0 Q137.1 1047.0 144.7 1045.2 Q152.3 1043.5 159.9 1044.5 Q167.5 1045.5 175.1 1043.8 Q182.7 1042.0 190.3 1043.0" stroke-width="4.8"/>
<path d="M234.8 846.5 L329.0 838.0 L332.0 988.0 L234.0 992.0 L234.8 846.5" stroke-width="5"/>
<path d="M237.0 849.0 L265.4 889.0" stroke-width="4.5"/>
<path d="M326.0 842.0 L300.7 882.0" stroke-width="4.5"/>
<path d="M240.0 988.0 L272.4 940.0" stroke-width="4.5"/>
<path d="M326.0 982.4 L288.0 931.5" stroke-width="4.5"/>
<text x="246.0" y="919.5" font-size="29.1" font-weight="bold" textLength="71.2" lengthAdjust="spacingAndGlyphs" style="stroke:#141414;stroke-width:1.0;stroke-linejoin:round">WEDDING</text>
<path d="M241.0 1016.4 Q249.2 1017.3 257.5 1015.4 Q265.7 1013.6 274.0 1014.5 Q282.2 1015.4 290.4 1013.5 Q298.7 1011.6 306.9 1012.6 Q315.2 1013.5 323.4 1011.6" stroke-width="4.8"/>
<path d="M249.8 1039.0 Q257.8 1040.0 265.7 1038.2 Q273.7 1036.5 281.6 1037.5 Q289.6 1038.5 297.6 1036.8 Q305.5 1035.0 313.5 1036.0" stroke-width="4.8"/>
<path d="M349.0 840.0 L446.0 836.6 L450.0 987.0 L352.6 989.5 L349.0 840.0" stroke-width="5"/>
<path d="M350.0 841.0 L375.3 876.0" stroke-width="4.5"/>
<path d="M446.0 838.0 L420.6 879.0" stroke-width="4.5"/>
<path d="M354.0 986.7 L381.0 942.8" stroke-width="4.5"/>
<path d="M446.0 985.0 L416.4 947.0" stroke-width="4.5"/>
<text x="375.8" y="905.5" font-size="24.7" font-weight="bold" textLength="52.7" lengthAdjust="spacingAndGlyphs" style="stroke:#141414;stroke-width:1.0;stroke-linejoin:round">NIGHT</text>
<text x="385.5" y="933.5" font-size="24.7" font-weight="bold" textLength="32.0" lengthAdjust="spacingAndGlyphs" style="stroke:#141414;stroke-width:1.0;stroke-linejoin:round">OUT</text>
<path d="M355.5 1013.6 Q362.8 1014.4 370.1 1012.4 Q377.4 1010.4 384.7 1011.2 Q392.0 1012.0 399.2 1010.0 Q406.5 1008.1 413.8 1008.9 Q421.1 1009.7 428.4 1007.7 Q435.7 1005.7 443.0 1006.5" stroke-width="4.8"/>
<path d="M364.0 1037.6 Q371.4 1038.3 378.7 1036.2 Q386.1 1034.1 393.4 1034.8 Q400.8 1035.5 408.2 1033.3 Q415.5 1031.2 422.9 1031.9 Q430.2 1032.6 437.6 1030.5" stroke-width="4.8"/>
<path d="M467.3 832.4 L567.8 828.7 L569.0 984.0 L466.0 986.7 L467.3 832.4" stroke-width="5"/>
<path d="M468.7 836.6 L497.0 877.7" stroke-width="4.5"/>
<path d="M567.8 831.0 L536.7 876.0" stroke-width="4.5"/>
<path d="M468.7 984.0 L501.3 937.0" stroke-width="4.5"/>
<path d="M563.6 982.4 L532.4 935.7" stroke-width="4.5"/>
<text x="490.5" y="914.0" font-size="28.3" font-weight="bold" textLength="54.0" lengthAdjust="spacingAndGlyphs" style="stroke:#141414;stroke-width:1.0;stroke-linejoin:round">PROM</text>
<path d="M478.6 1005.0 Q486.4 1005.9 494.2 1004.0 Q502.0 1002.1 509.8 1003.0 Q517.5 1003.9 525.3 1002.0 Q533.1 1000.1 540.9 1001.0 Q548.7 1001.9 556.5 1000.0" stroke-width="4.8"/>
<path d="M481.5 1023.5 Q489.0 1024.8 496.5 1023.2 Q504.0 1021.6 511.5 1022.9 Q519.0 1024.2 526.5 1022.6 Q534.0 1021.1 541.5 1022.3 Q549.0 1023.5 556.5 1022.0" stroke-width="4.8"/>
<path d="M658.4 796.0 L684.0 795.0" stroke-width="5"/>
<text x="694.7" y="804.5" font-size="32.6" font-weight="normal" textLength="117.2" lengthAdjust="spacingAndGlyphs" style="stroke:#141414;stroke-width:1.8;stroke-linejoin:round">FIND IT FAST</text>
<path d="M822.7 790.0 C827.2 789.6 833.8 788.4 850.0 787.5 C866.2 786.6 895.0 785.3 920.0 784.5 C945.0 783.7 974.9 783.1 1000.0 782.5 C1025.1 781.9 1058.8 781.2 1070.5 781.0" stroke-width="5"/>
<path d="M1076.0 782.7 L1073.0 900.0 L1070.0 1071.6" stroke-width="5"/>
<path d="M658.4 795.5 L658.0 950.0 L658.4 1078.8 L870.0 1074.0 L1070.0 1071.6" stroke-width="5"/>
<path d="M682.5 836.6 L794.4 831.0 L791.6 995.0 L679.7 1002.0 L682.5 836.6" stroke-width="5"/>
<path d="M691.0 843.6 L716.5 873.4" stroke-width="4.5"/>
<path d="M790.0 838.0 L753.3 873.4" stroke-width="4.5"/>
<path d="M692.4 984.0 L730.6 940.0" stroke-width="4.5"/>
<path d="M776.0 981.0 L739.0 930.0" stroke-width="4.5"/>
<text x="692.9" y="911.1" font-size="27.0" font-weight="bold" textLength="74.1" lengthAdjust="spacingAndGlyphs" style="stroke:#141414;stroke-width:1.0;stroke-linejoin:round">JACKETS</text>
<path d="M689.6 1016.0 Q697.5 1016.8 705.5 1014.8 Q713.4 1012.8 721.4 1013.6 Q729.3 1014.4 737.2 1012.4 Q745.2 1010.4 753.1 1011.2 Q761.1 1012.0 769.0 1010.0" stroke-width="4.8"/>
<path d="M696.7 1035.0 Q704.8 1035.9 713.0 1033.9 Q721.1 1031.9 729.2 1032.8 Q737.4 1033.7 745.5 1031.7 Q753.7 1029.7 761.8 1030.6" stroke-width="4.8"/>
<path d="M811.3 829.5 L921.8 824.4 L916.0 993.7 L808.5 992.3 L811.3 829.5" stroke-width="5"/>
<path d="M819.8 835.0 L845.3 867.7" stroke-width="4.5"/>
<path d="M913.3 836.6 L877.9 873.4" stroke-width="4.5"/>
<path d="M819.8 982.4 L851.0 941.3" stroke-width="4.5"/>
<path d="M900.5 979.6 L865.0 918.7" stroke-width="4.5"/>
<text x="824.5" y="908.3" font-size="26.7" font-weight="bold" textLength="78.4" lengthAdjust="spacingAndGlyphs" style="stroke:#141414;stroke-width:1.0;stroke-linejoin:round">TROUSERS</text>
<path d="M814.0 1010.7 Q821.3 1011.7 828.7 1009.9 Q836.0 1008.0 843.3 1009.0 Q850.7 1010.0 858.0 1008.2 Q865.3 1006.3 872.7 1007.3 Q880.0 1008.3 887.3 1006.5 Q894.7 1004.6 902.0 1005.6" stroke-width="4.8"/>
<path d="M825.5 1029.0 Q832.9 1029.8 840.2 1027.8 Q847.5 1025.8 854.9 1026.6 Q862.2 1027.4 869.6 1025.4 Q877.0 1023.4 884.3 1024.2 Q891.6 1025.0 899.0 1023.0" stroke-width="4.8"/>
<path d="M940.0 825.0 L1052.0 822.4 L1050.6 988.0 L937.4 988.0 L940.0 825.0" stroke-width="5"/>
<path d="M945.8 832.3 L979.8 873.4" stroke-width="4.5"/>
<path d="M1045.0 832.3 L1008.0 870.5" stroke-width="4.5"/>
<path d="M944.4 976.7 L977.0 937.0" stroke-width="4.5"/>
<path d="M1040.7 978.0 L995.4 923.0" stroke-width="4.5"/>
<text x="947.8" y="902.5" font-size="24.7" font-weight="bold" textLength="95.2" lengthAdjust="spacingAndGlyphs" style="stroke:#141414;stroke-width:1.0;stroke-linejoin:round">WAISTCOATS</text>
<path d="M948.7 1005.0 Q956.0 1006.0 963.3 1004.3 Q970.7 1002.6 978.0 1003.6 Q985.3 1004.6 992.6 1002.9 Q999.9 1001.1 1007.2 1002.2 Q1014.5 1003.2 1021.9 1001.5 Q1029.2 999.8 1036.5 1000.8" stroke-width="4.8"/>
<path d="M965.7 1019.0 Q974.7 1020.1 983.6 1018.3 Q992.6 1016.6 1001.6 1017.7 Q1010.5 1018.7 1019.5 1017.0" stroke-width="4.8"/>
<path d="M1131.0 780.0 L1149.4 780.0" stroke-width="5"/>
<text x="1161.9" y="788.3" font-size="25.0" font-weight="normal" textLength="116.5" lengthAdjust="spacingAndGlyphs" style="stroke:#141414;stroke-width:1.8;stroke-linejoin:round">FIND IT FAST</text>
<path d="M1292.5 779.6 L1400.0 776.0 L1558.0 772.0" stroke-width="5.5"/>
<path d="M1564.0 775.0 L1562.0 950.0 L1558.0 1091.0" stroke-width="5.5"/>
<path d="M1131.0 778.0 L1127.0 950.0 L1123.5 1070.0" stroke-width="5.5"/>
<path d="M1120.5 1076.0 L1350.0 1074.0 L1549.0 1074.5" stroke-width="6"/>
<path d="M1162.6 817.0 L1316.0 815.5" stroke-width="5"/>
<path d="M1325.0 811.0 L1324.0 850.0 L1322.0 901.0" stroke-width="5"/>
<path d="M1165.7 915.0 L1308.6 912.0" stroke-width="5"/>
<path d="M1162.6 817.0 L1163.0 870.0 L1164.0 915.0" stroke-width="5"/>
<path d="M1165.5 820.0 L1190.3 836.0" stroke-width="4.5"/>
<path d="M1324.6 820.0 L1302.7 831.5" stroke-width="4.5"/>
<path d="M1165.5 913.3 L1193.0 894.3" stroke-width="4.5"/>
<path d="M1317.6 910.5 L1289.6 891.4" stroke-width="4.5"/>
<text x="1190.8" y="876.3" font-size="49.1" font-weight="normal" textLength="102.7" lengthAdjust="spacingAndGlyphs" style="stroke:#141414;stroke-width:1.0;stroke-linejoin:round">£0 to £99</text>
<path d="M1356.3 808.2 L1524.0 806.0" stroke-width="5"/>
<path d="M1531.0 813.0 L1531.0 903.0" stroke-width="5"/>
<path d="M1355.0 906.0 L1541.0 904.0" stroke-width="5"/>
<path d="M1356.3 808.2 L1355.0 906.0" stroke-width="5"/>
<path d="M1357.7 812.6 L1391.3 831.6" stroke-width="4.5"/>
<path d="M1531.5 814.0 L1489.2 831.6" stroke-width="4.5"/>
<path d="M1357.7 903.0 L1391.3 890.0" stroke-width="4.5"/>
<path d="M1530.0 903.0 L1505.0 887.0" stroke-width="4.5"/>
<text x="1369.9" y="871.9" font-size="48.5" font-weight="normal" textLength="140.6" lengthAdjust="spacingAndGlyphs" style="stroke:#141414;stroke-width:1.0;stroke-linejoin:round">£100 to £199</text>
<path d="M1162.7 945.0 L1325.0 942.0" stroke-width="5"/>
<path d="M1321.0 945.0 L1320.0 1028.0" stroke-width="5"/>
<path d="M1158.0 1041.0 L1310.0 1032.0" stroke-width="5"/>
<path d="M1162.7 945.0 L1158.0 1041.0" stroke-width="5"/>
<path d="M1164.0 949.8 L1190.3 963.0" stroke-width="4.5"/>
<path d="M1324.6 944.0 L1277.9 965.8" stroke-width="4.5"/>
<path d="M1161.0 1034.5 L1193.0 1017.0" stroke-width="4.5"/>
<path d="M1317.3 1027.0 L1285.2 1009.6" stroke-width="4.5"/>
<text x="1174.5" y="1004.5" font-size="50.9" font-weight="normal" textLength="129.0" lengthAdjust="spacingAndGlyphs" style="stroke:#141414;stroke-width:1.0;stroke-linejoin:round">£200 to £299</text>
<path d="M1354.0 940.5 L1519.0 934.5" stroke-width="5"/>
<path d="M1530.0 940.0 L1528.0 990.0 L1526.0 1031.0" stroke-width="5"/>
<path d="M1351.0 1028.0 L1524.0 1032.0" stroke-width="5"/>
<path d="M1354.0 940.5 L1351.0 1028.0" stroke-width="5"/>
<path d="M1354.8 942.5 L1382.6 961.5" stroke-width="4.5"/>
<path d="M1528.6 942.5 L1489.2 961.5" stroke-width="4.5"/>
<path d="M1352.0 1025.8 L1392.8 1002.4" stroke-width="4.5"/>
<path d="M1521.3 1030.0 L1489.2 1008.0" stroke-width="4.5"/>
<text x="1405.0" y="1000.5" font-size="50.9" font-weight="normal" textLength="88.0" lengthAdjust="spacingAndGlyphs" style="stroke:#141414;stroke-width:1.0;stroke-linejoin:round">£300+</text>
<path d="M235.0 226.0 L235.0 372.0" stroke="#b8b8b8" stroke-width="1.1"/>
<path d="M252.6 225.0 L252.0 375.0" stroke="#b8b8b8" stroke-width="1.1"/>
<path d="M326.5 219.0 L326.0 370.0" stroke="#b8b8b8" stroke-width="1.1"/>
<path d="M342.0 217.0 L341.0 368.0" stroke="#b8b8b8" stroke-width="1.1"/>
<path d="M433.0 214.0 L433.0 365.0" stroke="#b8b8b8" stroke-width="1.1"/>
<path d="M451.0 213.0 L451.5 366.0" stroke="#b8b8b8" stroke-width="1.1"/>
<path d="M471.0 840.0 L471.5 980.0" stroke="#b8b8b8" stroke-width="1.1"/>
<path d="M475.0 838.0 L475.5 978.0" stroke="#b8b8b8" stroke-width="1.1"/>
<path d="M1300.0 822.0 L1301.0 905.0" stroke="#b8b8b8" stroke-width="1.1"/>
<path d="M1305.0 821.0 L1306.0 905.0" stroke="#b8b8b8" stroke-width="1.1"/>
<path d="M1346.0 815.0 L1346.0 895.0" stroke="#b8b8b8" stroke-width="1.1"/>
<path d="M330.0 528.0 L330.0 700.0" stroke="#b8b8b8" stroke-width="1.1"/>
<path d="M596.0 520.0 L596.0 690.0" stroke="#b8b8b8" stroke-width="1.1"/>
</g>
</svg>
</body></html>
